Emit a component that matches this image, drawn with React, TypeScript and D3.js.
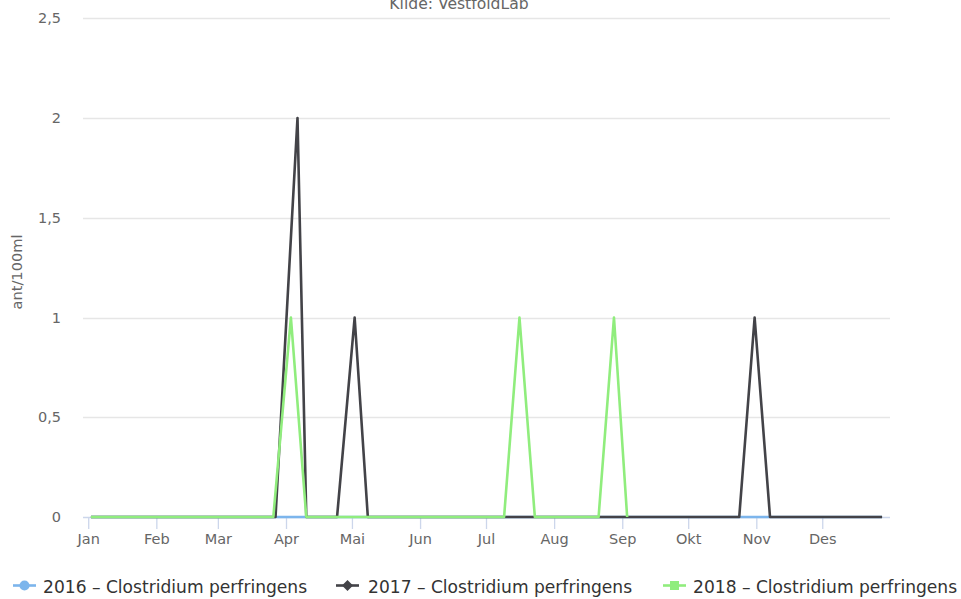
import { useRef, useEffect } from "react";
import * as d3 from "d3";

// month-day of each sample, plotted on one common year
const dates2016 = ["01-02", "03-27", "04-10", "10-24", "11-07", "12-28"];
const values2016 = [0, 0, 0, 0, 0, 0];

const dates2017 = ["01-02", "03-27", "04-06", "04-10", "04-24", "05-02", "05-08", "10-24", "10-31", "11-07", "12-28"];
const values2017 = [0, 0, 2, 0, 0, 1, 0, 0, 1, 0, 0];

const dates2018 = ["01-02", "03-26", "04-03", "04-10", "07-09", "07-16", "07-23", "08-21", "08-28", "09-03"];
const values2018 = [0, 0, 1, 0, 0, 1, 0, 0, 1, 0];

const monthLabels = ["Jan", "Feb", "Mar", "Apr", "Mai", "Jun", "Jul", "Aug", "Sep", "Okt", "Nov", "Des"];
const yTicks = [0, 0.5, 1, 1.5, 2, 2.5];

const seriesNames = ["2016 - Clostridium perfringens", "2017 - Clostridium perfringens", "2018 - Clostridium perfringens"];
const colors = ["#7cb5ec", "#434348", "#90ed7d"];

const FONT = "'DejaVu Sans', sans-serif";

export default function App() {
  const svgRef = useRef(null);
  const width = 961;
  const height = 599;

  useEffect(() => {
    const svg = d3.select(svgRef.current);
    svg.selectAll("*").remove();

    const parse = (md: string) => new Date(Date.UTC(2017, +md.slice(0, 2) - 1, +md.slice(3, 5)));
    const series = [
      { dates: dates2016, values: values2016 },
      { dates: dates2017, values: values2017 },
      { dates: dates2018, values: values2018 },
    ].map((s, i) => ({
      name: seriesNames[i],
      color: colors[i],
      points: s.dates.map((d, j) => ({ date: parse(d), value: s.values[j] })),
    }));

    const allDates = series.flatMap((s) => s.points.map((p) => +p.date));
    const minD = d3.min(allDates) as number;
    const maxD = d3.max(allDates) as number;
    const pad = (maxD - minD) * 0.01;

    const x = d3.scaleUtc().domain([new Date(minD - pad), new Date(maxD + pad)]).range([83, 890]);
    const y = d3.scaleLinear().domain([0, 2.5]).range([517, 18.3]);

    // subtitle (cut at top, as in the source)
    svg
      .append("text")
      .attr("x", 459)
      .attr("y", 9)
      .attr("text-anchor", "middle")
      .attr("font-family", FONT)
      .attr("font-size", 15.6)
      .attr("fill", "#666")
      .text("Kilde: VestfoldLab");

    // grid
    svg
      .append("g")
      .selectAll("line")
      .data(yTicks.filter((t) => t > 0))
      .join("line")
      .attr("x1", 83)
      .attr("x2", 890)
      .attr("y1", (d) => Math.round(y(d)) + 0.5)
      .attr("y2", (d) => Math.round(y(d)) + 0.5)
      .attr("stroke", "#e6e6e6")
      .attr("stroke-width", 1.3);

    // y labels
    svg
      .append("g")
      .selectAll("text")
      .data(yTicks)
      .join("text")
      .attr("x", 61)
      .attr("y", (d) => y(d) + 5)
      .attr("text-anchor", "end")
      .attr("font-family", FONT)
      .attr("font-size", 14.5)
      .attr("fill", "#666")
      .text((d) => String(d).replace(".", ","));

    svg
      .append("text")
      .attr("transform", "translate(22,272) rotate(-90)")
      .attr("text-anchor", "middle")
      .attr("font-family", FONT)
      .attr("font-size", 14.6)
      .attr("fill", "#666")
      .text("ant/100ml");

    // x axis
    svg
      .append("line")
      .attr("x1", 83)
      .attr("x2", 890)
      .attr("y1", 517.5)
      .attr("y2", 517.5)
      .attr("stroke", "#ccd6eb")
      .attr("stroke-width", 1.3);

    const months = monthLabels.map((_, i) => new Date(Date.UTC(2017, i, 1)));
    const xt = svg.append("g").selectAll("g").data(months).join("g");
    xt.append("line")
      .attr("x1", (d) => x(d))
      .attr("x2", (d) => x(d))
      .attr("y1", 517)
      .attr("y2", 529)
      .attr("stroke", "#ccd6eb")
      .attr("stroke-width", 1.3);
    xt.append("text")
      .attr("x", (d) => x(d))
      .attr("y", 544)
      .attr("text-anchor", "middle")
      .attr("font-family", FONT)
      .attr("font-size", 14.5)
      .attr("fill", "#666")
      .text((_, i) => monthLabels[i]);

    // lines
    const line = d3
      .line<{ date: Date; value: number }>()
      .x((d) => x(d.date))
      .y((d) => y(d.value));

    svg
      .append("g")
      .selectAll("path")
      .data(series)
      .join("path")
      .attr("d", (d) => line(d.points))
      .attr("fill", "none")
      .attr("stroke", (d) => d.color)
      .attr("stroke-width", 2.6)
      .attr("stroke-linejoin", "round");

    // legend
    const legendX = [13, 336, 663];
    const markers = [
      d3.symbol(d3.symbolCircle, 80)(),
      "M0,-5.5L5.5,0L0,5.5L-5.5,0Z",
      "M-4.5,-4.5H4.5V4.5H-4.5Z",
    ];
    const items = svg
      .append("g")
      .selectAll("g")
      .data(series)
      .join("g")
      .attr("transform", (_, i) => `translate(${legendX[i]},585.5)`);
    items
      .append("line")
      .attr("x1", 0)
      .attr("x2", 23)
      .attr("stroke", (d) => d.color)
      .attr("stroke-width", 2.6);
    items
      .append("path")
      .attr("transform", "translate(11.5,0)")
      .attr("d", (_, i) => markers[i])
      .attr("fill", (d) => d.color);
    items
      .append("text")
      .attr("x", (_, i) => (i === 1 ? 32 : 30))
      .attr("y", 7)
      .attr("font-family", FONT)
      .attr("font-size", 17.1)
      .attr("fill", "#333")
      .text((d) => d.name.replace(" - ", " – "));
  }, []);

  return (
    <div>
      <style>{`body{margin:0}`}</style>
      <svg ref={svgRef} width={width} height={height} style={{ display: "block" }} />
    </div>
  );
}
